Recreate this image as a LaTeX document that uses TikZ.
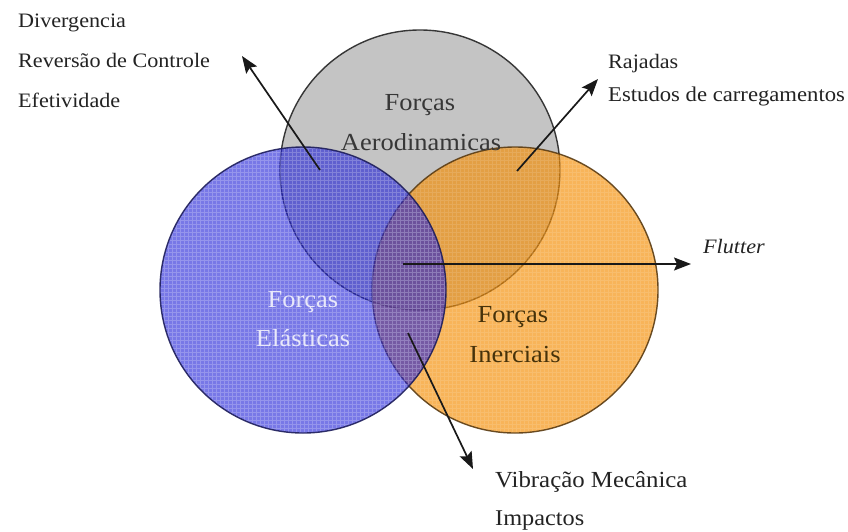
\documentclass[tikz,border=0pt]{standalone}
\usepackage{fontspec}
\setmainfont{Liberation Serif}[FakeStretch=1.08]
\usetikzlibrary{arrows.meta}
\definecolor{greyfill}{RGB}{196,196,196}
\definecolor{greyline}{RGB}{55,55,55}
\definecolor{bluefill}{RGB}{30,30,215}
\definecolor{blueline}{RGB}{30,30,90}
\definecolor{orangefill}{RGB}{245,140,0}
\definecolor{orangeline}{RGB}{90,60,20}
\definecolor{txtdark}{RGB}{35,35,35}
\definecolor{txtbrown}{RGB}{70,50,10}
\definecolor{txtwhite}{RGB}{232,232,250}
\tikzset{
  setcircle/.style={circle, inner sep=0pt, minimum size=#1, line width=1.4pt},
  outerlabel/.style={anchor=base west, inner sep=0pt, text=txtdark, font=\fontsize{20.5}{24}\selectfont},
  innerlabel/.style={anchor=base, inner sep=0pt, font=\fontsize{24.5}{28}\selectfont},
  pointer/.style={line width=1.7pt, draw=black!90, -{Stealth[length=17pt, width=13pt, inset=3pt]}},
}
\begin{document}
\begin{tikzpicture}[x=1pt, y=-1pt]
\useasboundingbox (0,0) rectangle (848,531);
\fill[white] (0,0) rectangle (848,531);
% circles
\node[setcircle=280pt, fill=greyfill, draw=greyline] (aero) at (420,170) {};
\node[setcircle=286pt, fill=orangefill, fill opacity=0.65, draw=orangeline, draw opacity=0.9] (iner) at (515,290) {};
\begin{scope}
  \clip (515,290) circle (142pt);
  \draw[white, opacity=0.12, line width=0.6pt, step=4pt] (370,145) grid (660,435);
\end{scope}
\node[setcircle=286pt, fill=bluefill, fill opacity=0.6, draw=blueline, draw opacity=0.9] (elas) at (303,290) {};
\begin{scope}
  \clip (303,290) circle (142pt);
  \draw[white, opacity=0.22, line width=0.6pt, step=4pt] (158,145) grid (448,435);
\end{scope}
% labels inside circles
\node[innerlabel, text=greyline] (aero1) at (420,110) {Forças};
\node[innerlabel, text=greyline] (aero2) at (421,150) {Aerodinamicas};
\node[innerlabel, text=txtwhite] (elas1) at (303,307) {Forças};
\node[innerlabel, text=txtwhite] (elas2) at (303,346) {Elásticas};
\node[innerlabel, text=txtbrown] (iner1) at (513,322) {Forças};
\node[innerlabel, text=txtbrown] (iner2) at (515,362) {Inerciais};
% outer labels
\node[outerlabel] (div) at (18,27) {Divergencia};
\node[outerlabel] (rev) at (18,67) {Reversão de Controle};
\node[outerlabel] (efe) at (18,107) {Efetividade};
\node[outerlabel] (raj) at (608,68) {Rajadas};
\node[outerlabel, font=\fontsize{21}{24}\selectfont] (est) at (608,101) {Estudos de carregamentos};
\node[outerlabel, font=\fontsize{20.5}{24}\selectfont\itshape] (flu) at (703,253) {Flutter};
\node[outerlabel, font=\fontsize{23}{26}\selectfont] (vib) at (495,487) {Vibração Mecânica};
\node[outerlabel, font=\fontsize{22.5}{26}\selectfont] (imp) at (495,525) {Impactos};
% arrows
\coordinate (p1s) at (320,170);
\coordinate (p1e) at (242,56);
\coordinate (p2s) at (517,171);
\coordinate (p2e) at (598,79);
\coordinate (p3s) at (403,264);
\coordinate (p3e) at (691,264);
\coordinate (p4s) at (408,333);
\coordinate (p4e) at (473,469);
\draw[pointer] (p1s) -- (p1e);
\draw[pointer] (p2s) -- (p2e);
\draw[pointer] (p3s) -- (p3e);
\draw[pointer] (p4s) -- (p4e);
\end{tikzpicture}
\end{document}
